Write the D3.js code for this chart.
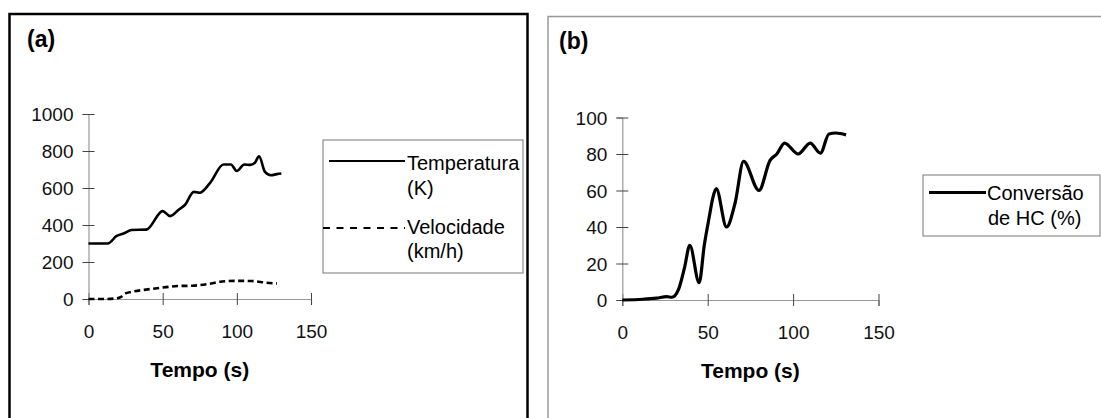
<!DOCTYPE html>
<html>
<head>
<meta charset="utf-8">
<script src="https://cdn.jsdelivr.net/npm/d3@7"></script>
<style>
  html, body { margin: 0; padding: 0; background: #fff; }
  svg { display: block; font-family: "Liberation Sans", Arial, sans-serif; }
</style>
</head>
<body>
<svg id="chart" width="1101" height="418"></svg>
<script>
// ---- data ----
const xTicks = [0, 50, 100, 150];
const tempTicks = [0, 200, 400, 600, 800, 1000];
const convTicks = [0, 20, 40, 60, 80, 100];

const tempTime = [0, 13, 19, 24, 29, 39, 50, 55, 61, 65, 71, 75, 82, 91, 96, 100, 105, 109, 112, 115, 119, 123, 127, 130];
const tempValues = [300, 300, 341, 355, 373, 375, 475, 448, 484, 508, 579, 574, 628, 727, 727, 692, 727, 725, 735, 771, 687, 669, 675, 678];

const velTime = [0, 10, 18, 22, 25, 30, 40, 50, 60, 70, 80, 90, 100, 110, 120, 127];
const velValues = [0, 0, 3, 12, 30, 40, 52, 62, 70, 72, 80, 95, 98, 97, 88, 84];

const convTime = [0, 12, 20, 26, 29, 33, 36.5, 39.5, 45, 48, 51, 53, 55, 61, 66, 71, 80, 86.5, 90.5, 95, 103, 110, 116, 121, 125, 131];
const convValues = [0, 0.4, 1, 1.8, 1.5, 6, 18, 30, 9.5, 30, 46, 56, 61, 40, 53, 76, 60, 76.5, 80, 86, 80, 86, 80.5, 91, 91.5, 90.5];

const legendA = [["Temperatura", "(K)"], ["Velocidade", "(km/h)"]];
const legendB = [["Conversão", "de HC (%)"]];

// ---- drawing ----
const svg = d3.select("#chart");
svg.append("rect").attr("width", 1101).attr("height", 418).attr("fill", "#fff");

// panel frames
svg.append("rect").attr("x", 9.5).attr("y", 14).attr("width", 518).attr("height", 430)
  .attr("fill", "none").attr("stroke", "#000").attr("stroke-width", 2.5);
svg.append("path").attr("d", "M548,440V16.5H1101")
  .attr("fill", "none").attr("stroke", "#999").attr("stroke-width", 1.5);

const fmt = d3.format("d");

function axes(g, x, y, yt) {
  const ax = g.append("g").attr("transform", `translate(0,${y(0)})`)
    .call(d3.axisBottom(x).tickValues(xTicks).tickFormat(fmt).tickSizeOuter(0).tickSize(6));
  ax.select(".domain").attr("stroke", "#999").attr("stroke-width", 1.2);
  ax.selectAll(".tick line").attr("y1", -6).attr("y2", 6).attr("stroke", "#444");
  ax.selectAll(".tick text").attr("y", 39).attr("dy", null)
    .attr("font-size", 19).attr("fill", "#111").style("font-family", "Liberation Sans, Arial, sans-serif");

  const ay = g.append("g").attr("transform", `translate(${x(0)},0)`)
    .call(d3.axisLeft(y).tickValues(yt).tickFormat(fmt).tickSizeOuter(0).tickSize(6));
  ay.select(".domain").attr("stroke", "#999").attr("stroke-width", 1.2);
  ay.selectAll(".tick line").attr("x1", -6).attr("x2", 6).attr("stroke", "#444");
  ay.selectAll(".tick text").attr("x", -15).attr("dy", "0.35em")
    .attr("font-size", 19).attr("fill", "#111").style("font-family", "Liberation Sans, Arial, sans-serif");
  return [ax, ay];
}

// ---- panel (a) ----
const xa = d3.scaleLinear().domain([0, 150]).range([88.5, 311]);
const ya = d3.scaleLinear().domain([0, 1000]).range([299, 114]);
const ga = svg.append("g");
axes(ga, xa, ya, tempTicks);

const lineA = d3.line().curve(d3.curveMonotoneX).x(d => xa(d[0])).y(d => ya(d[1]));
ga.append("path").datum(velTime.map((t, i) => [t, velValues[i]]))
  .attr("d", lineA).attr("fill", "none").attr("stroke", "#000")
  .attr("stroke-width", 2.6).attr("stroke-dasharray", "6,3.5");
ga.append("path").datum(tempTime.map((t, i) => [t, tempValues[i]]))
  .attr("d", lineA).attr("fill", "none").attr("stroke", "#000").attr("stroke-width", 2.6)
  .attr("stroke-linejoin", "round");

svg.append("text").attr("x", 27).attr("y", 47).attr("font-size", 23).attr("font-weight", "bold").text("(a)");
svg.append("text").attr("x", (xa(0) + xa(150)) / 2).attr("y", 377).attr("text-anchor", "middle")
  .attr("font-size", 21).attr("font-weight", "bold").text("Tempo (s)");

// legend (a)
svg.append("rect").attr("x", 323).attr("y", 140).attr("width", 200).attr("height", 133)
  .attr("fill", "#fff").attr("stroke", "#777").attr("stroke-width", 1);
const legA = svg.append("g");
const legAy = [[161, 170, 195], [228, 234, 258]];
legendA.forEach((lab, i) => {
  legA.append("line").attr("x1", i === 0 ? 329 : 323).attr("x2", 405)
    .attr("y1", legAy[i][0]).attr("y2", legAy[i][0]).attr("stroke", "#000")
    .attr("stroke-width", 2.2).attr("stroke-dasharray", i === 0 ? null : "7,6.5");
  legA.append("text").attr("x", 407).attr("y", legAy[i][1]).attr("font-size", 20).text(lab[0]);
  legA.append("text").attr("x", 407).attr("y", legAy[i][2]).attr("font-size", 20).text(lab[1]);
});

// ---- panel (b) ----
const xb = d3.scaleLinear().domain([0, 150]).range([622.3, 878.5]);
const yb = d3.scaleLinear().domain([0, 100]).range([300, 117.5]);
const gb = svg.append("g");
axes(gb, xb, yb, convTicks);

const lineB = d3.line().curve(d3.curveMonotoneX).x(d => xb(d[0])).y(d => yb(d[1]));
gb.append("path").datum(convTime.map((t, i) => [t, convValues[i]]))
  .attr("d", lineB).attr("fill", "none").attr("stroke", "#000").attr("stroke-width", 3.2)
  .attr("stroke-linejoin", "round");

svg.append("text").attr("x", 559).attr("y", 48.5).attr("font-size", 23).attr("font-weight", "bold").text("(b)");
svg.append("text").attr("x", (xb(0) + xb(150)) / 2).attr("y", 378).attr("text-anchor", "middle")
  .attr("font-size", 21).attr("font-weight", "bold").text("Tempo (s)");

// legend (b)
svg.append("rect").attr("x", 923).attr("y", 175).attr("width", 177).attr("height", 61)
  .attr("fill", "#fff").attr("stroke", "#777").attr("stroke-width", 1);
legendB.forEach(lab => {
  svg.append("line").attr("x1", 929).attr("x2", 986).attr("y1", 192.5).attr("y2", 192.5)
    .attr("stroke", "#000").attr("stroke-width", 3.2);
  svg.append("text").attr("x", 987).attr("y", 200).attr("font-size", 20).text(lab[0]);
  svg.append("text").attr("x", 988).attr("y", 225).attr("font-size", 20).text(lab[1]);
});
</script>
</body>
</html>
